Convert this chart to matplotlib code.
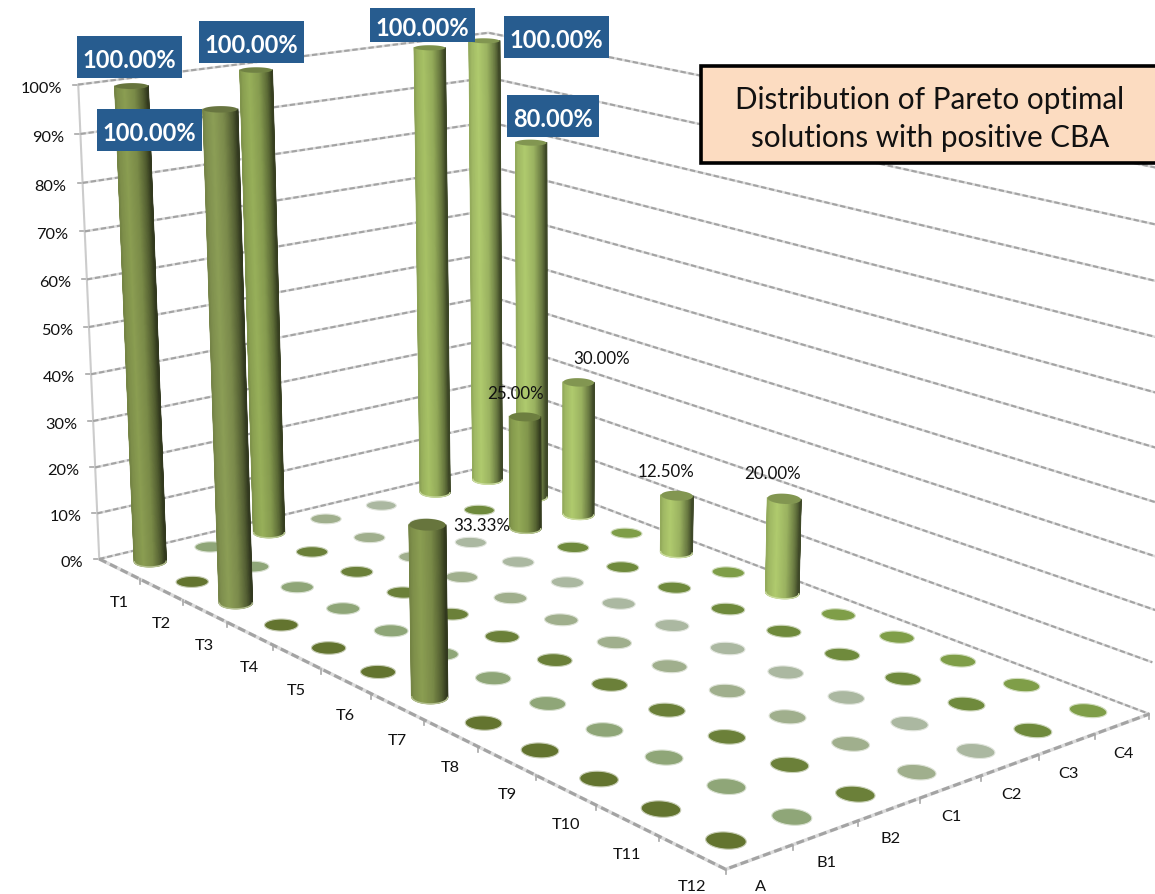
import matplotlib
matplotlib.use("Agg")
import matplotlib.pyplot as plt
import numpy as np
from matplotlib.colors import LinearSegmentedColormap, to_rgb
from matplotlib.patches import Polygon, Rectangle

plt.rcParams['font.family'] = ['Lato', 'DejaVu Sans']

# === Data ===
periods = ['T1', 'T2', 'T3', 'T4', 'T5', 'T6', 'T7', 'T8', 'T9', 'T10', 'T11', 'T12']
groups = ['A', 'B1', 'B2', 'C1', 'C2', 'C3', 'C4']
share_a = [100, 0, 100, 0, 0, 0, 33.33, 0, 0, 0, 0, 0]
share_b1 = [0] * 12
share_b2 = [100, 0, 0, 0, 0, 0, 0, 0, 0, 0, 0, 0]
share_c1 = [0] * 12
share_c2 = [0] * 12
share_c3 = [100, 0, 25, 0, 0, 0, 0, 0, 0, 0, 0, 0]
share_c4 = [100, 80, 30, 0, 12.5, 0, 20, 0, 0, 0, 0, 0]
shares = [share_a, share_b1, share_b2, share_c1, share_c2, share_c3, share_c4]
y_ticks = [0, 10, 20, 30, 40, 50, 60, 70, 80, 90, 100]

# === Styles ===
disc_colors = ['#63742f', '#8fa678', '#6b8039', '#a0af8d', '#abb8a1', '#6f8a3c', '#7f9e48']
column_colors = ['#8b9e52', '#8b9e52', '#98b05a', '#98b05a', '#98b05a', '#a8c266', '#b0cb6e']
column_override = {(2, 5): '#93aa56', (2, 0): '#8c9e56'}
BLUE = '#275c8f'

# outlined labels: (period, group) -> box in figure pixels
blue_boxes = {
    (0, 0): (77, 37, 182, 79),
    (2, 0): (97, 110, 202, 152),
    (0, 2): (199, 22, 304, 64),
    (0, 5): (370, 9, 475, 43),
    (0, 6): (504, 17, 609, 59),
    (1, 6): (507, 96, 599, 138),
}
plain_labels = {
    (2, 6): (602, 359),
    (2, 5): (515, 394),
    (6, 0): (482, 526),
    (4, 6): (666, 472),
    (6, 6): (772, 474),
}

# === Camera fitted to the edges of the plot box ===
front_edge_px = [(100, 560), (142, 583), (183, 603), (226, 625), (273, 647), (321, 670), (372, 697),
                 (422, 722), (478, 748), (535, 777), (595, 808), (659, 837), (725, 868)]
side_edge_px = [(725, 868), (792, 845), (858, 823), (921, 799), (981, 777), (1039, 755), (1096, 733), (1150, 713)]
left_wall_px = [(100, 560), (97, 514), (95, 467), (93, 420), (91, 373), (90, 326),
                (88, 279), (85, 232), (82, 184), (80, 135), (78, 86)]

world = []
image = []
for i, p in enumerate(front_edge_px):
    world.append((i, 0, 0))
    image.append(p)
for i, p in enumerate(side_edge_px):
    world.append((12, i, 0))
    image.append(p)
for i, p in enumerate(left_wall_px):
    world.append((0, 0, i / 10))
    image.append(p)
for w, p in [((0, 7, 0), (490, 466)), ((0, 7, 1), (487, 35)), ((12, 7, 1), (1182, 176))]:
    world.append(w)
    image.append(p)


def fit_camera(world, image):
    rows = []
    for (x, y, z), (u, v) in zip(world, image):
        u, v = u / 1000, v / 1000
        rows.append([x, y, z, 1, 0, 0, 0, 0, -u * x, -u * y, -u * z, -u])
        rows.append([0, 0, 0, 0, x, y, z, 1, -v * x, -v * y, -v * z, -v])
    _, _, vt = np.linalg.svd(np.array(rows, dtype=float))
    return vt[-1].reshape(3, 4)


CAM = fit_camera(world, image)


def project(t, s, v):
    t, s, v = np.broadcast_arrays(np.asarray(t, float), np.asarray(s, float), np.asarray(v, float))
    pts = np.stack([t, s, v, np.ones_like(t)], axis=-1) @ CAM.T
    return 1000 * pts[..., 0] / pts[..., 2], 1000 * pts[..., 1] / pts[..., 2]


def column_cmap(color):
    rgb = np.array(to_rgb(color))
    stops = [0, 0.08, 0.3, 0.6, 0.85, 1]
    levels = [0.84, 0.91, 1.0, 0.88, 0.6, 0.36]
    return LinearSegmentedColormap.from_list('col', [(f, rgb * k) for f, k in zip(stops, levels)])


def mix_white(color, a):
    return np.array(to_rgb(color)) * (1 - a) + a


RT = 0.215
RS = 0.215
ang = np.linspace(0, 2 * np.pi, 97)[:-1]


def circle(i, j, v):
    return project(i + 0.5 + RT * np.cos(ang), j + 0.5 + RS * np.sin(ang), v)


def draw_disc(ax, i, j, color, z):
    x, y = circle(i, j, 0)
    ax.add_patch(Polygon(np.c_[x, y], facecolor=color, edgecolor=mix_white(color, 0.65), lw=0.8, zorder=z))


def draw_column(ax, i, j, value, color, z):
    xb, yb = circle(i, j, 0)
    xt, yt = circle(i, j, value / 100)
    # keep the arc of the base circle that faces the viewer
    start = np.argmin(xb)
    order = np.roll(np.arange(len(ang)), -start)
    split = np.where(order == np.argmax(xb))[0][0]
    arc1 = order[:split + 1]
    arc2 = np.r_[order[split:], order[0]]
    arc = arc1 if yb[arc1].mean() > yb[arc2].mean() else arc2[::-1]
    f = (xb[arc] - xb.min()) / (xb.max() - xb.min())
    X = np.vstack([xb[arc], xt[arc]])
    Y = np.vstack([yb[arc], yt[arc]])
    C = np.vstack([f, f])
    cmap = column_cmap(color)
    ax.pcolormesh(X, Y, C, shading='gouraud', cmap=cmap, vmin=0, vmax=1, zorder=z)
    # gouraud meshes are not antialiased, so trace the silhouette to smooth it
    ax.plot(X[:, 0], Y[:, 0], color=cmap(f[0]), lw=1.1, zorder=z + 0.05)
    ax.plot(X[:, -1], Y[:, -1], color=cmap(f[-1]), lw=1.1, zorder=z + 0.05)
    ax.plot(X[0], Y[0], color=mix_white(color, 0.35), lw=1, zorder=z + 0.05)
    ax.add_patch(Polygon(np.c_[xt, yt], facecolor=np.array(to_rgb(color)) * 0.74,
                         edgecolor='none', zorder=z + 0.1))


def grid_line(ax, xs, ys, lw=1.5):
    ax.plot(xs, ys, color='#dcdcdc', lw=lw + 0.3, solid_capstyle='butt', zorder=1)
    ax.plot(xs, ys, color='#a3a3a3', lw=lw, dashes=(2.6, 1.3), zorder=1.1)


fig = plt.figure(figsize=(11.55, 8.95), dpi=100)
ax = fig.add_axes([0, 0, 1, 1])
ax.set_xlim(0, 1155)
ax.set_ylim(895, 0)
ax.axis('off')

# walls
for tick in y_ticks:
    v = tick / 100
    x, y = project([0, 0, 12], [0, 7, 7], [v, v, v])
    grid_line(ax, x, y)
    x0, y0 = project(0, 0, v)
    ax.plot([x0 - 5, x0], [y0, y0], color='#a8a8a8', lw=1.2, zorder=1)
    ax.text(x0 - 16, y0 + 3, f'{tick}%', ha='right', va='center', fontsize=11.8, color='#111111')
x, y = project([0, 0], [0, 0], [0, 1])
ax.plot(x, y, color='#cccccc', lw=1.5, zorder=1)

# floor edges, ticks and category labels
x, y = project([0, 12, 12], [0, 0, 7], [0, 0, 0])
grid_line(ax, x, y, lw=2.2)
for i, name in enumerate(periods):
    x0, y0 = project(i + 1, 0, 0)
    ax.plot([x0, x0], [y0, y0 + 5], color='#a8a8a8', lw=1.2, zorder=1)
    xc, yc = project(i + 0.5, 0, 0)
    ax.text(xc, yc + 33.5, name, ha='center', va='center', fontsize=11.8, color='#111111')
for j, name in enumerate(groups):
    x0, y0 = project(12, j + 1, 0)
    ax.plot([x0, x0], [y0, y0 + 5], color='#a8a8a8', lw=1.2, zorder=1)
    xc, yc = project(12, j + 0.5, 0)
    ax.text(xc + 1, yc + 29, name, ha='center', va='center', fontsize=11.8, color='#111111')

# columns and discs, back to front
z = 2
for j in range(6, -1, -1):
    for i in range(12):
        value = shares[j][i]
        if value > 0:
            color = column_override.get((i, j), column_colors[j])
            draw_column(ax, i, j, value, color, z)
        else:
            draw_disc(ax, i, j, disc_colors[j], z)
        z += 1

# value labels
for (i, j), (x0, y0, x1, y1) in blue_boxes.items():
    ax.add_patch(Rectangle((x0, y0), x1 - x0, y1 - y0, facecolor=BLUE, edgecolor='none', zorder=200))
    ax.text((x0 + x1) / 2, (y0 + y1) / 2 + 2, f'{shares[j][i]:.2f}%', color='white', fontweight='bold',
            fontsize=17, ha='center', va='center', zorder=201)
for (i, j), (xc, yc) in plain_labels.items():
    ax.text(xc, yc, f'{shares[j][i]:.2f}%', color='#111111', fontsize=12.2,
            ha='center', va='center', zorder=201)

# title box
ax.add_patch(Rectangle((701, 67), 470, 97, facecolor='#fcdcc1', edgecolor='black', lw=2.6, zorder=300))
ax.text(930, 100, 'Distribution of Pareto optimal', fontsize=21.3, ha='center', va='center', color='#111111', zorder=301)
ax.text(930, 138, 'solutions with positive CBA', fontsize=21.3, ha='center', va='center', color='#111111', zorder=301)

fig.savefig('out.png', dpi=100)
